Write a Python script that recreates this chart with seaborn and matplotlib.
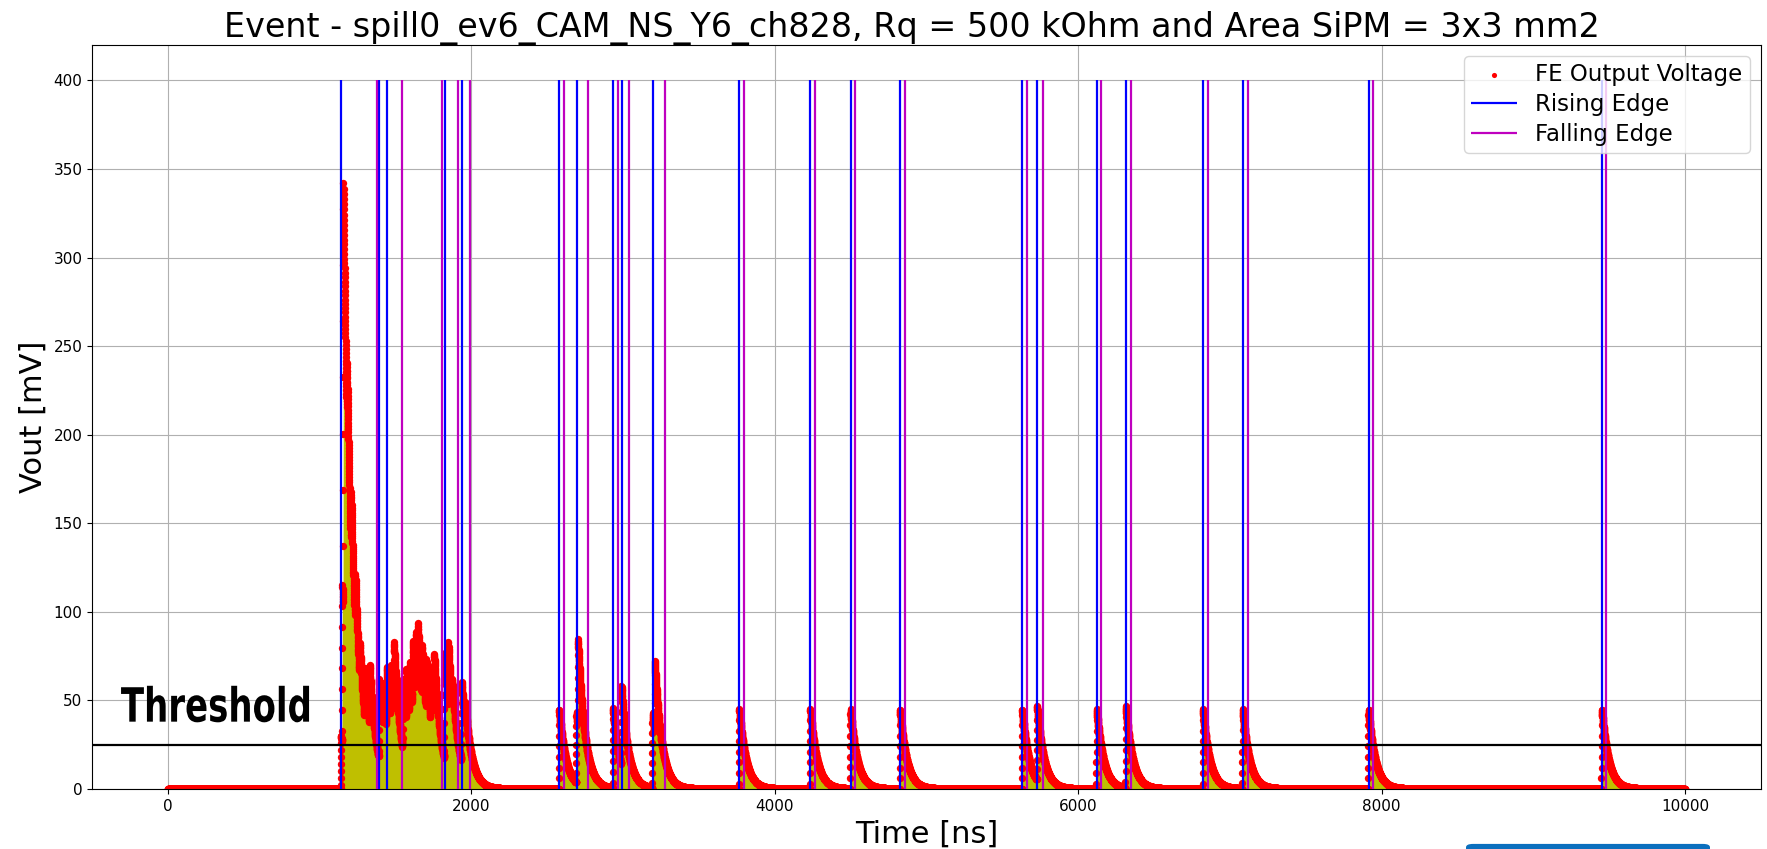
import numpy as np
import pandas as pd
import matplotlib
matplotlib.use("Agg")
import matplotlib.pyplot as plt
import seaborn as sns
from matplotlib.patches import FancyBboxPatch
from matplotlib.patheffects import AbstractPathEffect
from matplotlib.transforms import Affine2D

# ---------------- data ----------------
# photo-electron pulses: start time [ns] and amplitude [mV]
pulse_start_ns = [1139, 1147, 1154, 1178, 1205, 1232, 1262, 1296, 1326, 1389, 1415,
                  1440, 1465, 1487,
                  1546, 1568, 1590, 1610, 1630, 1645, 1672, 1700, 1730, 1752,
                  1821, 1845, 1870, 1933, 1955,
                  2576, 2690, 2700, 2931, 2986, 3191, 3206, 3763, 4231, 4496, 4822,
                  5628, 5726, 6119, 6311, 6819, 7081, 7910, 9448]
pulse_amp_mv = [30, 90, 245, 40, 35, 30, 20, 30, 35, 45, 25,
                35, 30, 40,
                40, 30, 30, 38, 35, 30, 30, 30, 30, 35,
                60, 38, 15, 45, 12,
                45, 40, 50, 45, 45, 42, 42, 45, 45, 45, 45,
                45, 42, 45, 46, 45, 45, 45, 45]
pulse_rise_ns = 3.0
pulse_decay_ns = 45.0
baseline_mv = 0.0
record_start_ns = 0
record_end_ns = 10000
sample_step_ns = 0.4

rising_edge_ns = [1142, 1393, 1444, 1825, 1937, 2580, 2693, 2935, 2990, 3195, 3767,
                  4235, 4500, 4826, 5632, 5730, 6123, 6315, 6823, 7085, 7914, 9452]
falling_edge_ns = [1378, 1543, 1809, 1914, 1989, 2610, 2766, 2964, 3039, 3277, 3796,
                   4263, 4528, 4857, 5664, 5767, 6153, 6346, 6856, 7116, 7945, 9481]
edge_top_mv = 400
threshold_mv = 25

x_ticks = [0, 2000, 4000, 6000, 8000, 10000]
y_ticks = [0, 50, 100, 150, 200, 250, 300, 350, 400]

title = "Event - spill0_ev6_CAM_NS_Y6_ch828, Rq = 500 kOhm and Area SiPM = 3x3 mm2"

# ---------------- waveform from the pulse list ----------------
t = np.arange(record_start_ns, record_end_ns + sample_step_ns / 2, sample_step_ns)
v = np.full_like(t, baseline_mv)
for t0, a in zip(pulse_start_ns, pulse_amp_mv):
    x = t - t0
    rise = np.clip(x / pulse_rise_ns, 0, 1)
    decay = np.exp(-np.clip(x - pulse_rise_ns, 0, None) / pulse_decay_ns)
    v += a * rise * decay * (x >= 0)
df = pd.DataFrame({"Time [ns]": t, "Vout [mV]": v})


class HSqueeze(AbstractPathEffect):
    """Draw text glyphs narrowed horizontally (condensed look)."""
    def __init__(self, sx):
        super().__init__()
        self.sx = sx

    def draw_path(self, renderer, gc, tpath, affine, rgbFace=None):
        renderer.draw_path(gc, tpath, Affine2D().scale(self.sx, 1.0) + affine, rgbFace)


# ---------------- figure ----------------
fig = plt.figure(figsize=(17.67, 8.49), dpi=100)
ax = fig.add_axes([0.0521, 0.0707, 0.9445, 0.8763])

ax.fill_between(df["Time [ns]"], 0, df["Vout [mV]"], color="y", linewidth=0, zorder=1)
sns.scatterplot(data=df, x="Time [ns]", y="Vout [mV]", color="red", s=28, linewidth=0,
                marker="o", ax=ax, zorder=2, label="FE Output Voltage")
ax.vlines(rising_edge_ns, 0, edge_top_mv, colors="b", linewidth=1.6, zorder=3, label="Rising Edge")
ax.vlines(falling_edge_ns, 0, edge_top_mv, colors="m", linewidth=1.6, zorder=3, label="Falling Edge")
ax.axhline(threshold_mv, color="black", linewidth=1.6, zorder=4)

ax.text(-310, 38, "Threshold", fontsize=34, fontweight="bold", family="DejaVu Sans",
        va="baseline", zorder=5, path_effects=[HSqueeze(0.72)])

ax.set_xlim(-500, 10500)
ax.set_ylim(0, 420)
ax.set_xticks(x_ticks)
ax.set_yticks(y_ticks)
ax.tick_params(labelsize=11)
ax.grid(True, color="#b0b0b0", linewidth=0.8)
ax.set_axisbelow(True)
ax.set_title(title, fontsize=24, x=0.4915)
ax.set_xlabel("Time [ns]", fontsize=22)
ax.set_ylabel("Vout [mV]", fontsize=22)
leg = ax.legend(loc="upper right", fontsize=16.5, labelspacing=0.3, borderpad=0.3,
                markerscale=0.7)

fig.patches.append(FancyBboxPatch((1466 / 1767, -0.02), 244 / 1767, 0.026,
                                  boxstyle="round,pad=0,rounding_size=0.004",
                                  transform=fig.transFigure, facecolor="#0b6fbe",
                                  edgecolor="none"))

fig.savefig("out.png", dpi=100)
